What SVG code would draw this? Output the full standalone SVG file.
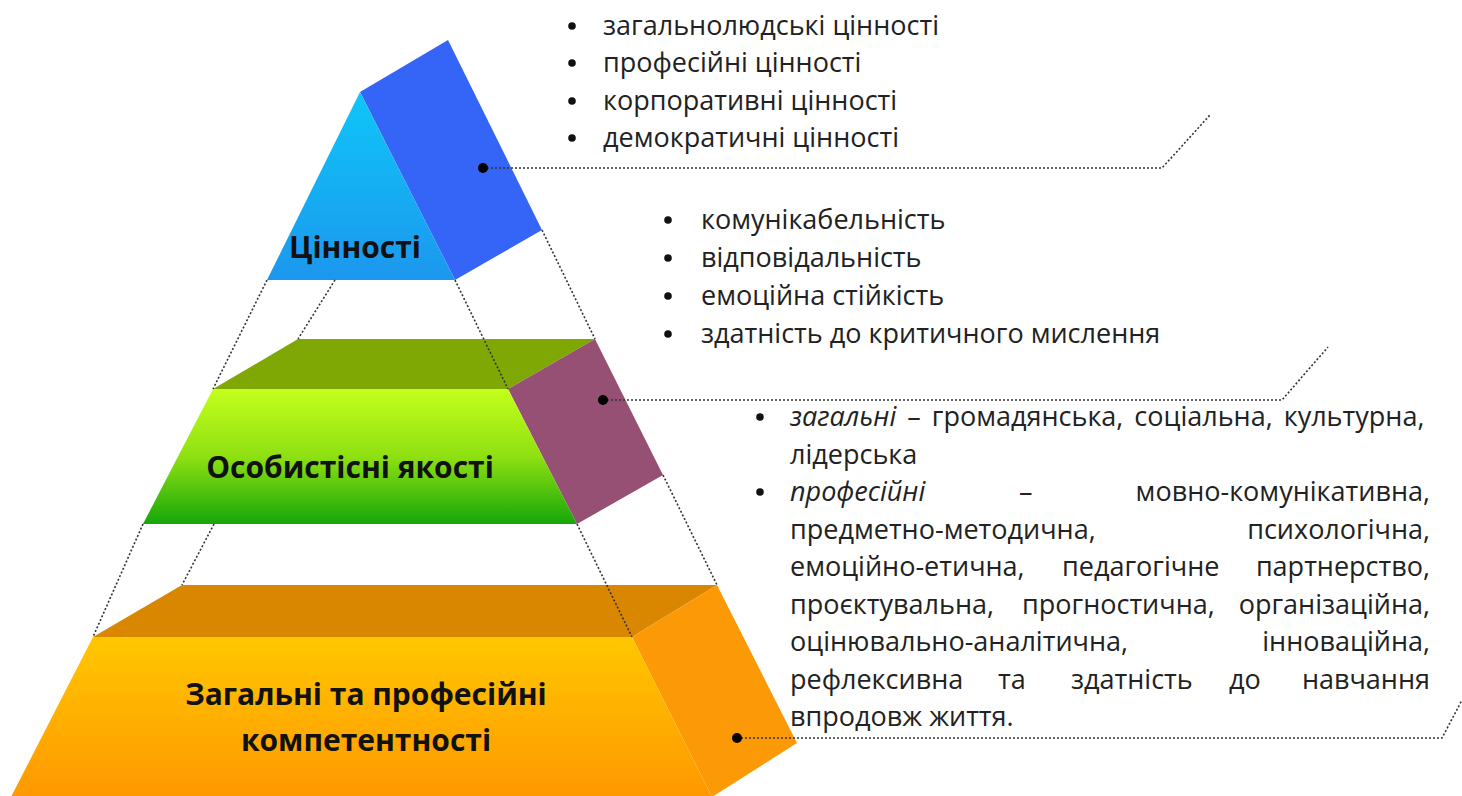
<svg xmlns="http://www.w3.org/2000/svg" width="1462" height="796" viewBox="0 0 1462 796">
<defs>
<linearGradient id="gBlue" x1="0" y1="0" x2="0" y2="1"><stop offset="0" stop-color="#0fc6f8"/><stop offset="1" stop-color="#1c97ee"/></linearGradient>
<linearGradient id="gGreen" x1="0" y1="0" x2="0" y2="1"><stop offset="0" stop-color="#c4ff1c"/><stop offset="0.5" stop-color="#8fe012"/><stop offset="1" stop-color="#16a70a"/></linearGradient>
<linearGradient id="gOrange" x1="0" y1="0" x2="0" y2="1"><stop offset="0" stop-color="#ffc700"/><stop offset="1" stop-color="#ff9800"/></linearGradient>
<style>
.lbl{font-family:"Open Sans","Noto Sans","DejaVu Sans",sans-serif;font-weight:bold;font-size:30px;fill:#111;text-anchor:middle}
.t{font-family:"Open Sans","Noto Sans","DejaVu Sans",sans-serif;font-size:27px;fill:#222}
.e{text-anchor:end}
.i{font-style:italic}
.dot{fill:none;stroke:#333;stroke-width:1.6;stroke-dasharray:2 2}
.pt{fill:#000}
.bl{fill:#111}
</style>
</defs>
<rect width="1462" height="796" fill="#ffffff"/>

<g id="node-values">
<polygon points="360,92 448,40 542,230 455,280" fill="#3465f6"/>
<polygon points="360,92 455,280 267,280" fill="url(#gBlue)"/>
<text class="lbl" x="355" y="258">Цінності</text>
</g>

<g id="node-qualities">
<polygon points="298,339 595,339 508,389 213,389" fill="#80a805"/>
<polygon points="508,389 595,339 663,475 577,524" fill="#955073"/>
<polygon points="213,389 508,389 577,524 143,524" fill="url(#gGreen)"/>
<text class="lbl" x="350" y="478">Особистісні якості</text>
</g>

<g id="node-competences">
<polygon points="182,585 717,585 632,637 93,637" fill="#d98600"/>
<polygon points="632,637 717,585 797,743 712,797" fill="#fb9a06"/>
<polygon points="93,637 632,637 712,797 11,797" fill="url(#gOrange)"/>
<text class="lbl" x="366" y="705">Загальні та професійні</text>
<text class="lbl" x="366" y="751">компетентності</text>
</g>

<g id="connectors">
<line class="dot" x1="267" y1="280" x2="213" y2="389"/>
<line class="dot" x1="335" y1="280" x2="298" y2="339"/>
<line class="dot" x1="455" y1="280" x2="508" y2="389"/>
<line class="dot" x1="542" y1="230" x2="595" y2="339"/>
<line class="dot" x1="143" y1="524" x2="93" y2="637"/>
<line class="dot" x1="214" y1="524" x2="182" y2="585"/>
<line class="dot" x1="577" y1="524" x2="632" y2="637"/>
<line class="dot" x1="663" y1="475" x2="717" y2="585"/>
<polyline class="dot" points="483,168 1162,168 1210,115"/>
<polyline class="dot" points="603,400 1282,400 1328,347"/>
<polyline class="dot" points="737,738 1442,738 1462,700"/>
<circle class="pt" cx="483" cy="168" r="5"/>
<circle class="pt" cx="603" cy="400" r="5"/>
<circle class="pt" cx="737" cy="738" r="5"/>
</g>

<g id="text-values">
<circle class="bl" cx="572" cy="26" r="3.8"/>
<circle class="bl" cx="572" cy="63" r="3.8"/>
<circle class="bl" cx="572" cy="101" r="3.8"/>
<circle class="bl" cx="572" cy="138" r="3.8"/>
<text class="t" x="603" y="35">загальнолюдські цінності</text>
<text class="t" x="603" y="72">професійні цінності</text>
<text class="t" x="603" y="110">корпоративні цінності</text>
<text class="t" x="603" y="147">демократичні цінності</text>
</g>

<g id="text-qualities">
<circle class="bl" cx="668" cy="220" r="3.8"/>
<circle class="bl" cx="668" cy="258" r="3.8"/>
<circle class="bl" cx="668" cy="296" r="3.8"/>
<circle class="bl" cx="668" cy="334" r="3.8"/>
<text class="t" x="701" y="229">комунікабельність</text>
<text class="t" x="701" y="267">відповідальність</text>
<text class="t" x="701" y="305">емоційна стійкість</text>
<text class="t" x="701" y="343">здатність до критичного мислення</text>
</g>

<g id="text-competences">
<circle class="bl" cx="760" cy="417" r="3.8"/>
<circle class="bl" cx="760" cy="492" r="3.8"/>
<text class="t" x="790" y="426" style="word-spacing:4px"><tspan class="i">загальні</tspan> – громадянська, соціальна, культурна,</text>
<text class="t" x="790" y="463.5">лідерська</text>
<text class="t i" x="790" y="501">професійні</text>
<text class="t" x="1019" y="501">–</text>
<text class="t e" x="1430" y="501">мовно-комунікативна,</text>
<text class="t" x="790" y="538.5">предметно-методична,</text>
<text class="t e" x="1430" y="538.5">психологічна,</text>
<text class="t" x="790" y="576">емоційно-етична,</text>
<text class="t" x="1062" y="576">педагогічне</text>
<text class="t e" x="1430" y="576">партнерство,</text>
<text class="t" x="790" y="613.5">проєктувальна,</text>
<text class="t" x="1022" y="613.5">прогностична,</text>
<text class="t e" x="1430" y="613.5">організаційна,</text>
<text class="t" x="790" y="651">оцінювально-аналітична,</text>
<text class="t e" x="1430" y="651">інноваційна,</text>
<text class="t" x="790" y="688.5">рефлексивна</text>
<text class="t" x="998" y="688.5">та</text>
<text class="t" x="1071" y="688.5">здатність</text>
<text class="t" x="1229" y="688.5">до</text>
<text class="t e" x="1430" y="688.5">навчання</text>
<text class="t" x="790" y="726">впродовж життя.</text>
</g>
</svg>
